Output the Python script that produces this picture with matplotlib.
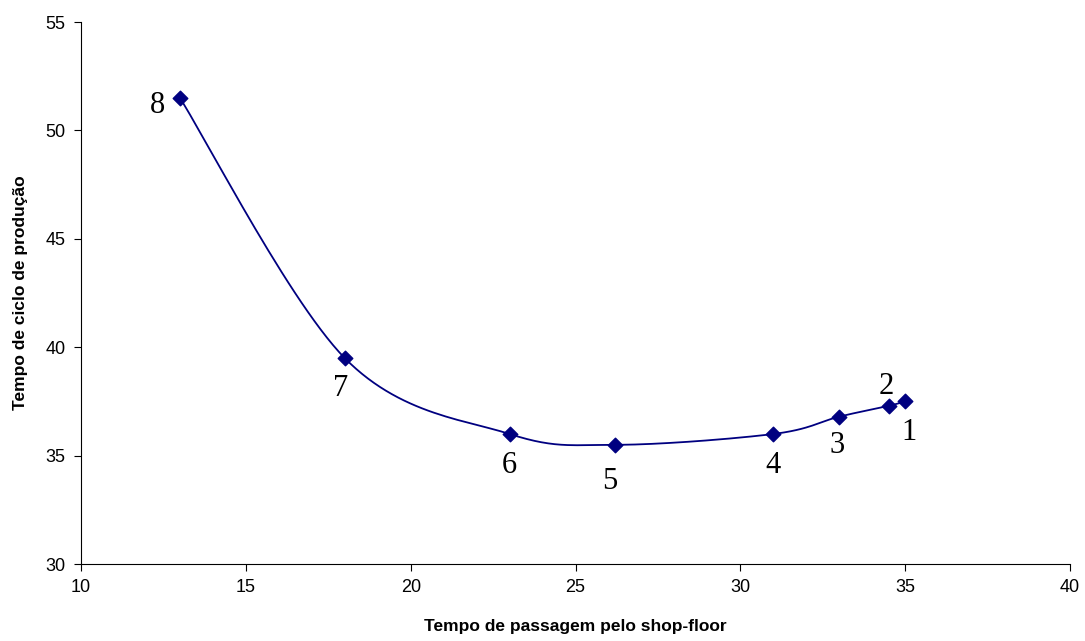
import numpy as np
from matplotlib import pyplot as plt

# passage time through the shop floor vs production cycle time
tempo_passagem = [35, 34.5, 33, 31, 26.2, 23, 18, 13]
tempo_ciclo = [37.5, 37.3, 36.8, 36.0, 35.5, 36.0, 39.5, 51.5]
rotulos = ['1', '2', '3', '4', '5', '6', '7', '8']

# label offsets in points (dx, dy) for each point
offsets = [(3, -22), (-2, 14), (-1.5, -21), (0, -23), (-3.6, -26.5), (0, -23), (-3, -22), (-16.5, -5.5)]


def smooth(xs, ys, n=30, t=1/6):
    # bezier through the points, control points from neighbours (Excel-like)
    px, py = [], []
    m = len(xs)
    for i in range(m - 1):
        x0, y0 = xs[max(i - 1, 0)], ys[max(i - 1, 0)]
        x1, y1 = xs[i], ys[i]
        x2, y2 = xs[i + 1], ys[i + 1]
        x3, y3 = xs[min(i + 2, m - 1)], ys[min(i + 2, m - 1)]
        c1x, c1y = x1 + (x2 - x0) * t, y1 + (y2 - y0) * t
        c2x, c2y = x2 - (x3 - x1) * t, y2 - (y3 - y1) * t
        s = np.linspace(0, 1, n)
        bx = (1-s)**3*x1 + 3*(1-s)**2*s*c1x + 3*(1-s)*s**2*c2x + s**3*x2
        by = (1-s)**3*y1 + 3*(1-s)**2*s*c1y + 3*(1-s)*s**2*c2y + s**3*y2
        px.extend(bx)
        py.extend(by)
    return px, py


fig = plt.figure(figsize=(10.85, 6.41), dpi=100)
ax = fig.add_axes([0.0747, 0.12, 0.9115, 0.8456])

cx, cy = smooth(tempo_passagem, tempo_ciclo)
ax.plot(cx, cy, color='#000080', lw=1.3, zorder=2)
ax.scatter(tempo_passagem, tempo_ciclo, marker='D', s=55, color='#000080', zorder=3)

for x, y, r, (dx, dy) in zip(tempo_passagem, tempo_ciclo, rotulos, offsets):
    ax.annotate(r, (x, y), xytext=(dx, dy), textcoords='offset points',
                ha='center', va='center', fontsize=22, family='Liberation Serif')

ax.set_xlim(10, 40)
ax.set_ylim(30, 55)
ax.set_xticks(range(10, 41, 5))
ax.set_yticks(range(30, 56, 5))
for s in ['top', 'right']:
    ax.spines[s].set_visible(False)
ax.tick_params(direction='out', length=5, labelsize=13, pad=6)
for lab in ax.get_xticklabels() + ax.get_yticklabels():
    lab.set_family('Liberation Sans')

ax.set_xlabel('Tempo de passagem pelo shop-floor', fontsize=12.5, fontweight='bold',
              family='Liberation Sans', labelpad=16)
ax.set_ylabel('Tempo de ciclo de produção', fontsize=12.5, fontweight='bold',
              family='Liberation Sans', labelpad=13)

plt.savefig('out.png')
